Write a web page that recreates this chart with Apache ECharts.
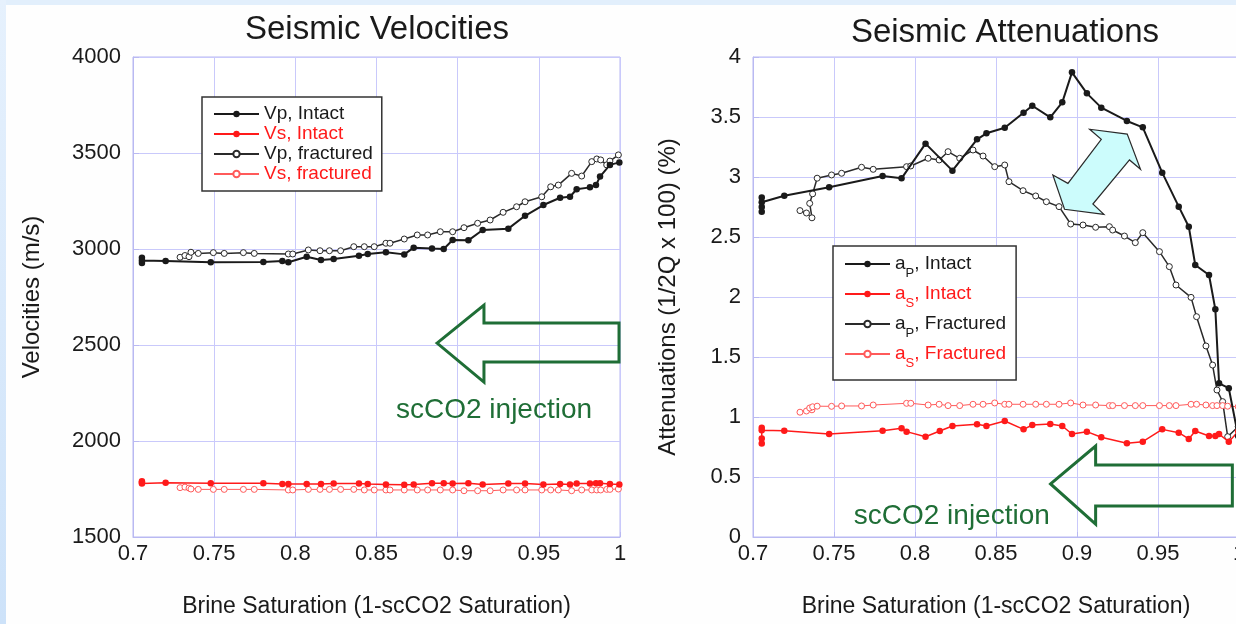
<!DOCTYPE html>
<html>
<head>
<meta charset="utf-8">
<script src="https://cdn.jsdelivr.net/npm/echarts@6/dist/echarts.min.js"></script>
<style>
  html, body { margin: 0; padding: 0; background: #fefefe; }
  #chart { width: 1236px; height: 624px; }
</style>
</head>
<body>
<div id="chart"></div>
<script>
// ---- Velocities vs brine saturation (m/s) ----
const velIntactSat = [0.7055,0.7055,0.7055,0.7201,0.7479,0.7803,0.7920,0.7957,0.8070,0.8158,0.8236,0.8392,0.8446,0.8558,0.8671,0.8729,0.8842,0.8914,0.8969,0.9066,0.9154,0.9312,0.9415,0.9528,0.9631,0.9692,0.9733,0.9815,0.9852,0.9877,0.9938,0.9996];
const vpIntact = [2927,2955,2940,2937,2931,2932,2937,2931,2960,2943,2948,2965,2974,2983,2972,3007,3002,3000,3047,3045,3099,3106,3173,3229,3267,3272,3311,3321,3333,3377,3438,3451];
const vsIntact = [1790,1778,1784,1783,1780,1780,1776,1776,1776,1776,1778,1778,1776,1774,1772,1774,1780,1780,1778,1780,1774,1778,1778,1774,1776,1774,1778,1778,1780,1780,1776,1774];

const velFracSat = [0.7290,0.7320,0.7345,0.7357,0.7402,0.7495,0.7562,0.7680,0.7747,0.7957,0.7984,0.8080,0.8152,0.8210,0.8279,0.8360,0.8425,0.8486,0.8558,0.8583,0.8671,0.8751,0.8815,0.8893,0.8969,0.9039,0.9123,0.9200,0.9280,0.9363,0.9415,0.9518,0.9573,0.9620,0.9702,0.9764,0.9826,0.9857,0.9881,0.9918,0.9938,0.9990];
const vpFrac = [2957,2966,2960,2983,2977,2981,2977,2981,2977,2974,2974,2995,2991,2991,2991,3012,3012,3012,3030,3030,3052,3073,3073,3090,3090,3111,3134,3151,3191,3220,3246,3272,3324,3333,3394,3380,3455,3469,3464,3438,3458,3490];
const vsFrac = [1757,1760,1755,1750,1748,1748,1748,1748,1748,1745,1745,1748,1748,1748,1748,1748,1745,1745,1745,1745,1745,1745,1745,1745,1745,1741,1741,1741,1745,1745,1745,1745,1745,1745,1741,1745,1745,1745,1745,1748,1748,1750];

// ---- Attenuations vs brine saturation (%) ----
const attIntactSat = [0.7054,0.7054,0.7054,0.7054,0.7193,0.7470,0.7800,0.7917,0.7948,0.8065,0.8153,0.8231,0.8383,0.8441,0.8554,0.8670,0.8724,0.8835,0.8909,0.8969,0.9061,0.9150,0.9308,0.9406,0.9526,0.9628,0.9690,0.9730,0.9815,0.9854,0.9877,0.9937,0.9995];
const apIntact = [2.71,2.75,2.83,2.79,2.844,2.914,3.008,2.989,null,3.278,null,3.053,3.314,3.364,3.411,3.536,3.594,3.497,3.622,3.872,3.697,3.578,3.467,3.414,3.036,2.753,2.586,2.267,2.183,1.897,1.281,1.24,0.84];
const asIntact = [0.78,0.82,0.91,0.89,0.886,0.858,0.886,0.906,0.878,0.836,0.883,0.925,0.939,0.925,0.967,0.897,0.933,0.942,0.925,0.858,0.878,0.831,0.781,0.794,0.897,0.869,0.817,0.883,0.842,0.842,0.858,0.794,0.88];

const attFracSat = [0.7290,0.7330,0.7364,0.7350,0.7368,0.7396,0.7485,0.7547,0.7670,0.7742,0.7948,0.7974,0.8081,0.8149,0.8204,0.8276,0.8358,0.8420,0.8492,0.8554,0.8580,0.8667,0.8745,0.8811,0.8889,0.8961,0.9037,0.9115,0.9200,0.9220,0.9293,0.9360,0.9406,0.9509,0.9570,0.9611,0.9704,0.9738,0.9796,0.9837,0.9864,0.9899,0.9930,0.9995];
const apFrac = [2.72,2.70,2.66,2.78,2.86,2.99,3.017,3.031,3.081,3.064,3.086,3.092,3.156,3.142,3.211,3.156,3.225,3.175,3.086,3.100,2.961,2.886,2.842,2.794,2.753,2.608,2.600,2.581,2.586,2.558,2.508,2.453,2.536,2.378,2.253,2.100,1.997,1.836,1.592,1.433,1.225,1.128,0.836,0.92];
const asFrac = [1.04,1.05,1.06,1.075,1.085,1.090,1.089,1.092,1.092,1.100,1.114,1.114,1.100,1.106,1.095,1.095,1.106,1.106,1.117,1.106,1.106,1.106,1.106,1.106,1.106,1.117,1.100,1.100,1.095,1.095,1.095,1.095,1.095,1.095,1.095,1.095,1.106,1.106,1.100,1.095,1.095,1.095,1.090,1.086];

// ---- Axis ticks ----
const satTicks = [0.7, 0.75, 0.8, 0.85, 0.9, 0.95, 1];
const velTicks = [1500, 2000, 2500, 3000, 3500, 4000];
const attTicks = [0, 0.5, 1, 1.5, 2, 2.5, 3, 3.5, 4];

// ---- Annotation shapes, in data units of each panel ----
const injArrowVel = [[0.8873,2510],[0.9162,2708],[0.9162,2615],[0.9994,2615],[0.9994,2412],[0.9162,2412],[0.9162,2307]];
const injLabelVel = [0.9224, 2160];
const injArrowAtt = [[0.8837,0.442],[0.9115,0.758],[0.9115,0.600],[0.9959,0.600],[0.9959,0.258],[0.9115,0.258],[0.9115,0.108]];
const injLabelAtt = [0.8227, 0.175];
const gapArrowAtt = [[0.9078,3.398],[0.9310,3.358],[0.9392,3.064],[0.9324,3.142],[0.9098,2.775],[0.9166,2.689],[0.8923,2.731],[0.8851,3.017],[0.8944,2.947],[0.9150,3.314]];

const FONT = '"Liberation Sans", Arial, sans-serif';
const GRID = '#c9c9fb';
const AXIS = '#b9b9f2';
const INK = '#1a1a1a';
const RED = '#ff1a1a';
const RED_LIGHT = '#ff5a5a';
const GREEN = '#1f6e36';

function pairs(xs, ys) { return xs.map((x, i) => [x, ys[i]]); }

function lineSeries(name, panel, xs, ys, color, width, filled, z) {
  return {
    name, type: 'line', xAxisIndex: panel, yAxisIndex: panel,
    data: pairs(xs, ys),
    connectNulls: true,
    symbol: 'circle',
    symbolSize: filled ? 6.5 : 6,
    lineStyle: { color, width },
    itemStyle: filled ? { color } : { color: '#ffffff', borderColor: color, borderWidth: 1 },
    emphasis: { disabled: true },
    animation: false,
    z
  };
}

function shapeSeries(panel, poly, style, label) {
  return {
    type: 'custom', xAxisIndex: panel, yAxisIndex: panel,
    silent: true, clip: false, animation: false, z: 1,
    data: [[poly[0][0], poly[0][1]]],
    renderItem: (params, api) => {
      const children = [{ type: 'polygon', shape: { points: poly.map(p => api.coord(p)) }, style }];
      if (label) {
        const c = api.coord(label.at);
        children.push({
          type: 'text', x: c[0], y: c[1],
          style: { text: label.text, fill: GREEN, font: '28px ' + FONT, align: 'center', verticalAlign: 'middle' }
        });
      }
      return { type: 'group', children };
    }
  };
}

function satAxis(panel) {
  return {
    type: 'value', gridIndex: panel,
    min: satTicks[0], max: satTicks[satTicks.length - 1], interval: 0.05,
    name: 'Brine Saturation (1-scCO2 Saturation)', nameLocation: 'middle', nameGap: 58,
    nameTextStyle: { fontFamily: FONT, fontSize: 23, color: INK },
    axisLine: { show: true, lineStyle: { color: AXIS } },
    axisTick: { show: true, inside: true, length: 5, lineStyle: { color: AXIS } },
    axisLabel: { fontFamily: FONT, fontSize: 22, color: INK, margin: 6, showMinLabel: true, showMaxLabel: true,
      formatter: v => String(satTicks.find(t => Math.abs(t - v) < 1e-6) ?? v) },
    splitLine: { show: true, lineStyle: { color: GRID, width: 1 } }
  };
}

function valAxis(panel, ticks, step, name, gap) {
  return {
    type: 'value', gridIndex: panel,
    min: ticks[0], max: ticks[ticks.length - 1], interval: step,
    name, nameLocation: 'middle', nameGap: gap,
    nameTextStyle: { fontFamily: FONT, fontSize: 24, color: INK },
    axisLine: { show: true, lineStyle: { color: AXIS } },
    axisTick: { show: true, inside: true, length: 6, lineStyle: { color: AXIS } },
    axisLabel: { fontFamily: FONT, fontSize: 22, color: INK, margin: 12, showMinLabel: true, showMaxLabel: true,
      formatter: v => String(ticks.find(t => Math.abs(t - v) < 1e-6) ?? v) },
    splitLine: { show: true, lineStyle: { color: GRID, width: 1 } }
  };
}

const chart = echarts.init(document.getElementById('chart'), null, { renderer: 'canvas' });

const subRich = {
  k: { fontFamily: FONT, fontSize: 19, color: INK, lineHeight: 32, verticalAlign: 'middle' },
  r: { fontFamily: FONT, fontSize: 19, color: RED, lineHeight: 32, verticalAlign: 'middle' },
  ks: { fontFamily: FONT, fontSize: 13, color: INK, lineHeight: 13, verticalAlign: 'bottom', padding: [19, 0, 0, 0] },
  rs: { fontFamily: FONT, fontSize: 13, color: RED, lineHeight: 13, verticalAlign: 'bottom', padding: [19, 0, 0, 0] }
};

chart.setOption({
  backgroundColor: '#fefefe',
  animation: false,
  graphic: [
    { type: 'rect', silent: true, z: -10, shape: { x: 0, y: 0, width: 1236, height: 5 }, style: { fill: '#e2effc' } },
    { type: 'rect', silent: true, z: -10, shape: { x: 0, y: 0, width: 6, height: 624 },
      style: { fill: new echarts.graphic.LinearGradient(0, 0, 0, 1, [{ offset: 0, color: '#e6f1fd' }, { offset: 1, color: '#cde2f9' }]) } }
  ],
  title: [
    { text: 'Seismic Velocities', left: 372, top: 8, textAlign: 'center',
      textStyle: { fontFamily: FONT, fontSize: 33, fontWeight: 'normal', color: INK } },
    { text: 'Seismic Attenuations', left: 1000, top: 11, textAlign: 'center',
      textStyle: { fontFamily: FONT, fontSize: 33, fontWeight: 'normal', color: INK } }
  ],
  grid: [
    { left: 133, top: 57, width: 487, height: 480, show: true, borderColor: AXIS, borderWidth: 1, backgroundColor: '#ffffff',
      outerBoundsMode: 'none', containLabel: false },
    { left: 753, top: 57, width: 486, height: 480, show: true, borderColor: AXIS, borderWidth: 1, backgroundColor: '#ffffff',
      outerBoundsMode: 'none', containLabel: false }
  ],
  xAxis: [satAxis(0), satAxis(1)],
  yAxis: [
    valAxis(0, velTicks, 500, 'Velocities (m/s)', 89),
    valAxis(1, attTicks, 0.5, 'Attenuations (1/2Q x 100) (%)', 73)
  ],
  legend: [
    {
      orient: 'vertical', left: 202, top: 97,
      data: [
        { name: 'Vp, Intact', textStyle: { color: INK } },
        { name: 'Vs, Intact', textStyle: { color: RED } },
        { name: 'Vp, fractured', textStyle: { color: INK } },
        { name: 'Vs, fractured', textStyle: { color: RED } }
      ],
      itemWidth: 45, itemHeight: 8, itemGap: 0,
      padding: [7, 9, 7, 11],
      borderColor: '#333', borderWidth: 1.5, backgroundColor: '#ffffff',
      selectedMode: false,
      textStyle: { fontFamily: FONT, fontSize: 19, lineHeight: 20 }
    },
    {
      orient: 'vertical', left: 833, top: 246,
      data: ['aP, Intact', 'aS, Intact', 'aP, Fractured', 'aS, Fractured'],
      itemWidth: 45, itemHeight: 8, itemGap: -2,
      padding: [2, 10, 10, 11],
      borderColor: '#333', borderWidth: 1.5, backgroundColor: '#ffffff',
      selectedMode: false,
      formatter: name => {
        const red = name.charAt(1) === 'S';
        const m = red ? 'r' : 'k', s = red ? 'rs' : 'ks';
        return '{' + m + '|' + name.charAt(0) + '}{' + s + '|' + name.charAt(1) + '}{' + m + '|' + name.slice(2) + '}';
      },
      textStyle: { fontFamily: FONT, fontSize: 19, rich: subRich }
    }
  ],
  series: [
    lineSeries('Vp, Intact', 0, velIntactSat, vpIntact, INK, 2, true, 5),
    lineSeries('Vs, Intact', 0, velIntactSat, vsIntact, RED, 1.5, true, 5),
    lineSeries('Vp, fractured', 0, velFracSat, vpFrac, '#2a2a2a', 1.5, false, 4),
    lineSeries('Vs, fractured', 0, velFracSat, vsFrac, RED_LIGHT, 1, false, 4),
    lineSeries('aP, Intact', 1, attIntactSat, apIntact, INK, 2, true, 5),
    lineSeries('aS, Intact', 1, attIntactSat, asIntact, RED, 1.5, true, 5),
    lineSeries('aP, Fractured', 1, attFracSat, apFrac, '#2a2a2a', 1.5, false, 4),
    lineSeries('aS, Fractured', 1, attFracSat, asFrac, RED_LIGHT, 1, false, 4),
    shapeSeries(0, injArrowVel, { fill: 'none', stroke: GREEN, lineWidth: 3, lineJoin: 'miter' },
      { text: 'scCO2 injection', at: injLabelVel }),
    shapeSeries(1, injArrowAtt, { fill: 'none', stroke: GREEN, lineWidth: 3, lineJoin: 'miter' },
      { text: 'scCO2 injection', at: injLabelAtt }),
    shapeSeries(1, gapArrowAtt, { fill: '#ccfcfc', stroke: '#2a2a2a', lineWidth: 1.2 }, null)
  ]
});
</script>
</body>
</html>
